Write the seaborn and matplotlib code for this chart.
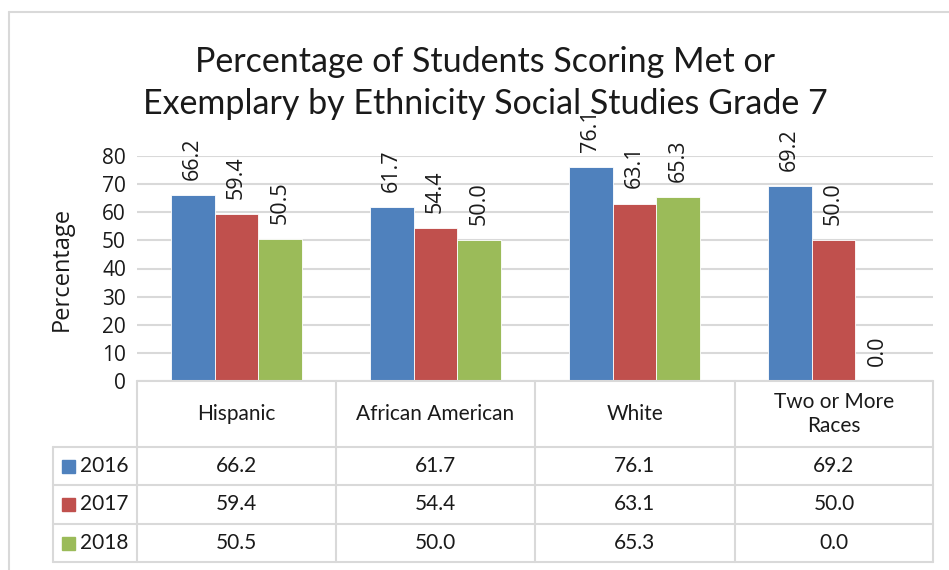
import matplotlib
matplotlib.use("Agg")
import matplotlib.pyplot as plt
import seaborn as sns
import pandas as pd

categories = ["Hispanic", "African American", "White", "Two or More\nRaces"]
years = ["2016", "2017", "2018"]
values_2016 = [66.2, 61.7, 76.1, 69.2]
values_2017 = [59.4, 54.4, 63.1, 50.0]
values_2018 = [50.5, 50.0, 65.3, 0.0]
colors = ["#4F81BD", "#C0504D", "#9BBB59"]

series = [values_2016, values_2017, values_2018]
df = pd.DataFrame(
    [(c, y, v) for y, vals in zip(years, series) for c, v in zip(categories, vals)],
    columns=["category", "year", "value"],
)

sns.set_theme(style="white")
plt.rcParams["font.family"] = ["Lato", "DejaVu Sans"]

W, H = 949, 570
fig = plt.figure(figsize=(W / 100, H / 100), dpi=100)
grid_col = "#D9D9D9"
txt_col = "#1a1a1a"
alt_font = ["Open Sans", "DejaVu Sans"]


def fx(px):
    return px / W


def fy(py):
    return 1 - py / H


# plot area
x0, x1 = 137, 933
ytop, ybot = 156, 381
ax = fig.add_axes([fx(x0), fy(ybot), fx(x1) - fx(x0), fy(ytop) - fy(ybot)])
sns.barplot(
    data=df, x="category", y="value", hue="year", hue_order=years,
    palette=colors, saturation=1, width=0.66, dodge=True, ax=ax,
    edgecolor="white", linewidth=0.6, legend=False,
)
ax.set_ylim(0, 80)
ax.set_xlim(-0.5, len(categories) - 0.5)
ax.set_yticks(range(0, 81, 10))
ax.yaxis.grid(True, color=grid_col, linewidth=1.5)
ax.set_axisbelow(True)
for s in ax.spines.values():
    s.set_visible(False)
ax.set_xticks([])
ax.set_xlabel("")
ax.set_ylabel("Percentage", fontsize=17, family=alt_font, color=txt_col, labelpad=20)
ax.tick_params(axis="y", length=0, pad=8, labelsize=15, labelcolor=txt_col)
for lab in ax.get_yticklabels():
    lab.set_family(alt_font)

for cont, vals in zip(ax.containers, series):
    for bar, v in zip(cont, vals):
        ax.annotate(
            f"{v:.1f}", (bar.get_x() + bar.get_width() / 2, v),
            xytext=(0, 11), textcoords="offset points",
            rotation=90, ha="center", va="bottom",
            fontsize=15.5, family=alt_font, color=txt_col,
            annotation_clip=False,
        )

# data table below the plot
tax = fig.add_axes([0, 0, 1, 1], facecolor="none")
tax.set_xlim(0, W)
tax.set_ylim(H, 0)
tax.axis("off")

col_edges = [137, 336, 535, 735, 933]
row_edges = [447, 485, 524, 562]
lkw = dict(color=grid_col, linewidth=1.5)
tax.plot([col_edges[0], col_edges[-1]], [ybot, ybot], **lkw)
for r in row_edges:
    tax.plot([53, col_edges[-1]], [r, r], **lkw)
for c in col_edges:
    tax.plot([c, c], [ybot, row_edges[-1]], **lkw)
tax.plot([53, 53], [row_edges[0], row_edges[-1]], **lkw)

# outer chart border
tax.plot([9, 9], [12, H], **lkw)
tax.plot([9, W], [12, 12], **lkw)

for i, cat in enumerate(categories):
    cx = (col_edges[i] + col_edges[i + 1]) / 2
    tax.text(cx, (ybot + row_edges[0]) / 2, cat, ha="center", va="center",
             fontsize=15, color=txt_col, linespacing=1.3)
    for j, vals in enumerate(series):
        cy = (row_edges[j] + row_edges[j + 1]) / 2
        tax.text(cx, cy, f"{vals[i]:.1f}", ha="center", va="center",
                 fontsize=15, color=txt_col)

for j, (yr, col) in enumerate(zip(years, colors)):
    cy = (row_edges[j] + row_edges[j + 1]) / 2
    tax.add_patch(plt.Rectangle((62, cy - 6.5), 13, 13, color=col))
    tax.text(80, cy, yr, ha="left", va="center", fontsize=15, color=txt_col)

tax.text(485, 83, "Percentage of Students Scoring Met or\nExemplary by Ethnicity Social Studies Grade 7",
         ha="center", va="center", fontsize=24.5, color=txt_col, linespacing=1.4)

fig.savefig("out.png", dpi=100)
